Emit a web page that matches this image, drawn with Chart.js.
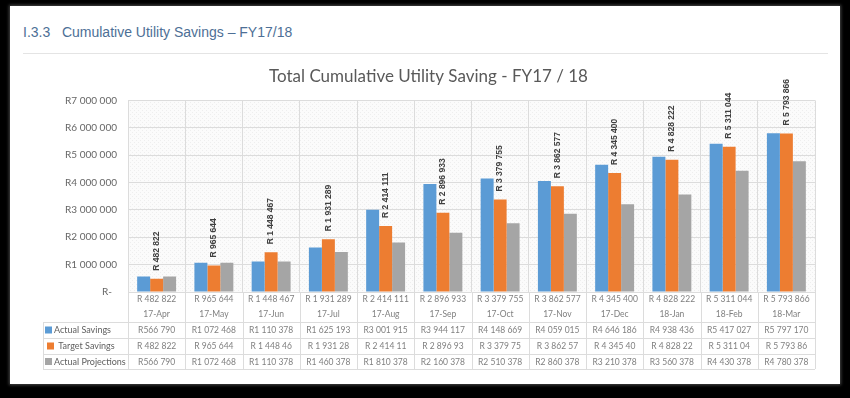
<!DOCTYPE html>
<html>
<head>
<meta charset="utf-8">
<script src="https://cdn.jsdelivr.net/npm/chart.js@4.4.1/dist/chart.umd.min.js"></script>
<style>
  html, body { margin: 0; padding: 0; background: #000; width: 850px; height: 398px; overflow: hidden; }
  #panel { position: absolute; left: 10px; top: 6px; width: 830px; height: 378px; background: #fff; box-shadow: 0 0 3px 1px rgba(120,120,120,0.6); }
  #heading { position: absolute; left: 23px; top: 24px; font-family: "Liberation Sans", Arial, sans-serif; font-size: 14px; color: #4d6f96; white-space: pre; }
  #rule { position: absolute; left: 23px; top: 53px; width: 805px; height: 1px; background: #e4e4e4; }
  #wrap { position: absolute; left: 0; top: 0; width: 850px; height: 398px; }
</style>
</head>
<body>
<div id="panel"></div>
<div id="heading">I.3.3   Cumulative Utility Savings – FY17/18</div>
<div id="rule"></div>
<div id="wrap"><canvas id="c" width="850" height="398"></canvas></div>
<script>
const categories = ['17-Apr','17-May','17-Jun','17-Jul','17-Aug','17-Sep','17-Oct','17-Nov','17-Dec','18-Jan','18-Feb','18-Mar'];
const targetLabels = ['R 482 822','R 965 644','R 1 448 467','R 1 931 289','R 2 414 111','R 2 896 933','R 3 379 755','R 3 862 577','R 4 345 400','R 4 828 222','R 5 311 044','R 5 793 866'];
const actualSavings = [566790, 1072468, 1110378, 1625193, 3001915, 3944117, 4148669, 4059015, 4646186, 4938436, 5417027, 5797170];
const targetSavings = [482822, 965644, 1448467, 1931289, 2414111, 2896933, 3379755, 3862577, 4345400, 4828222, 5311044, 5793866];
const actualProjections = [566790, 1072468, 1110378, 1460378, 1810378, 2160378, 2510378, 2860378, 3210378, 3560378, 4430378, 4780378];
const tableActual = ['R566 790','R1 072 468','R1 110 378','R1 625 193','R3 001 915','R3 944 117','R4 148 669','R4 059 015','R4 646 186','R4 938 436','R5 417 027','R5 797 170'];
const tableTarget = ['R 482 822','R 965 644','R 1 448 46','R 1 931 28','R 2 414 11','R 2 896 93','R 3 379 75','R 3 862 57','R 4 345 40','R 4 828 22','R 5 311 04','R 5 793 86'];
const tableProjections = ['R566 790','R1 072 468','R1 110 378','R1 460 378','R1 810 378','R2 160 378','R2 510 378','R2 860 378','R3 210 378','R3 560 378','R4 430 378','R4 780 378'];
const seriesNames = ['Actual Savings', ' Target Savings', 'Actual Projections'];
const yTickLabels = ['R-  ','R1 000 000','R2 000 000','R3 000 000','R4 000 000','R5 000 000','R6 000 000','R7 000 000'];

const COLORS = ['#5B9BD5', '#ED7D31', '#A5A5A5'];
const FONT = 'Lato, "Open Sans", sans-serif';

function makePattern(ctx) {
  const p = document.createElement('canvas');
  p.width = 4; p.height = 4;
  const pc = p.getContext('2d');
  pc.fillStyle = '#fbfbfb'; pc.fillRect(0, 0, 4, 4);
  pc.fillStyle = '#eeeeee';
  pc.fillRect(0, 0, 1, 1); pc.fillRect(2, 2, 1, 1);
  return ctx.createPattern(p, 'repeat');
}

const bgPlugin = {
  id: 'plotBg',
  beforeDraw(chart) {
    const { ctx, chartArea: a } = chart;
    ctx.save();
    ctx.fillStyle = makePattern(ctx);
    ctx.fillRect(a.left, a.top, a.right - a.left, a.bottom - a.top);
    ctx.restore();
  }
};

const rotLabels = {
  id: 'rotLabels',
  afterDatasetsDraw(chart) {
    const { ctx } = chart;
    const meta = chart.getDatasetMeta(1);
    ctx.save();
    ctx.font = 'bold 8.5px "Liberation Sans", Arial, sans-serif';
    ctx.fillStyle = '#404040';
    ctx.textAlign = 'left';
    ctx.textBaseline = 'middle';
    meta.data.forEach((bar, i) => {
      ctx.save();
      ctx.translate(bar.x, bar.y - 8);
      ctx.rotate(-Math.PI / 2);
      ctx.fillText(targetLabels[i], 0, 0);
      ctx.restore();
    });
    ctx.restore();
  }
};

const tablePlugin = {
  id: 'dataTable',
  afterDraw(chart) {
    const { ctx, chartArea: a } = chart;
    const xs = chart.scales.x;
    const n = categories.length;
    const step = xs.getPixelForValue(1) - xs.getPixelForValue(0);
    const legendLeft = 43;
    const b = a.bottom;
    const rowLines = [b + 30, b + 46, b + 62, b + 77];
    ctx.save();
    ctx.strokeStyle = '#dcdcdc';
    ctx.lineWidth = 1;
    for (let i = 0; i <= n; i++) {
      const x = Math.round(xs.getPixelForValue(i) - step / 2) + 0.5;
      ctx.beginPath(); ctx.moveTo(x, b); ctx.lineTo(x, rowLines[3]); ctx.stroke();
    }
    ctx.beginPath(); ctx.moveTo(legendLeft + 0.5, rowLines[0]); ctx.lineTo(legendLeft + 0.5, rowLines[3]); ctx.stroke();
    rowLines.forEach(y => {
      ctx.beginPath(); ctx.moveTo(legendLeft, Math.round(y) + 0.5); ctx.lineTo(xs.right, Math.round(y) + 0.5); ctx.stroke();
    });
    const rows = [tableActual, tableTarget, tableProjections];
    ctx.textBaseline = 'middle';
    rows.forEach((row, r) => {
      const cy = (rowLines[r] + rowLines[r + 1]) / 2 + 0.5;
      ctx.font = '8.5px ' + FONT;
      ctx.fillStyle = '#808080';
      ctx.textAlign = 'center';
      row.forEach((t, i) => ctx.fillText(t, xs.getPixelForValue(i), cy));
      ctx.fillStyle = COLORS[r];
      const sx = r === 1 ? 47 : 45;
      ctx.fillRect(sx, cy - 4, 7, 7);
      ctx.fillStyle = '#606060';
      ctx.textAlign = 'left';
      ctx.font = '9px ' + FONT;
      ctx.fillText(seriesNames[r], sx + 9, cy);
    });
    ctx.restore();
  }
};

new Chart(document.getElementById('c'), {
  type: 'bar',
  data: {
    labels: categories.map((c, i) => [targetLabels[i], c]),
    datasets: [
      { label: seriesNames[0], data: actualSavings, backgroundColor: COLORS[0] },
      { label: seriesNames[1], data: targetSavings, backgroundColor: COLORS[1] },
      { label: seriesNames[2], data: actualProjections, backgroundColor: COLORS[2] }
    ]
  },
  options: {
    responsive: false,
    animation: false,
    devicePixelRatio: 1,
    layout: { padding: { left: 42, right: 35, top: 0, bottom: 28 } },
    datasets: { bar: { categoryPercentage: 0.68, barPercentage: 1.0 } },
    plugins: {
      legend: { display: false },
      tooltip: { enabled: false },
      title: {
        display: true,
        text: 'Total Cumulative Utility Saving - FY17 / 18',
        color: '#595959',
        font: { family: FONT, size: 17, weight: 'normal' },
        padding: { top: 66, bottom: 14 }
      }
    },
    scales: {
      x: {
        grid: { offset: true, color: '#dcdcdc', drawTicks: false },
        border: { display: false },
        ticks: { color: '#808080', font: { family: FONT, size: 8.5, lineHeight: 1.75 }, padding: 0, maxRotation: 0, autoSkip: false },
        afterFit(scale) { scale.height = 78; }
      },
      y: {
        min: 0, max: 7000000,
        grid: { color: '#dcdcdc', drawTicks: false },
        border: { display: false },
        ticks: {
          stepSize: 1000000,
          color: '#666666',
          font: { family: FONT, size: 10 },
          padding: 11,
          callback: (v, i) => yTickLabels[i]
        },
        afterFit(scale) { scale.width = 86; }
      }
    }
  },
  plugins: [bgPlugin, rotLabels, tablePlugin]
});
</script>
</body>
</html>
